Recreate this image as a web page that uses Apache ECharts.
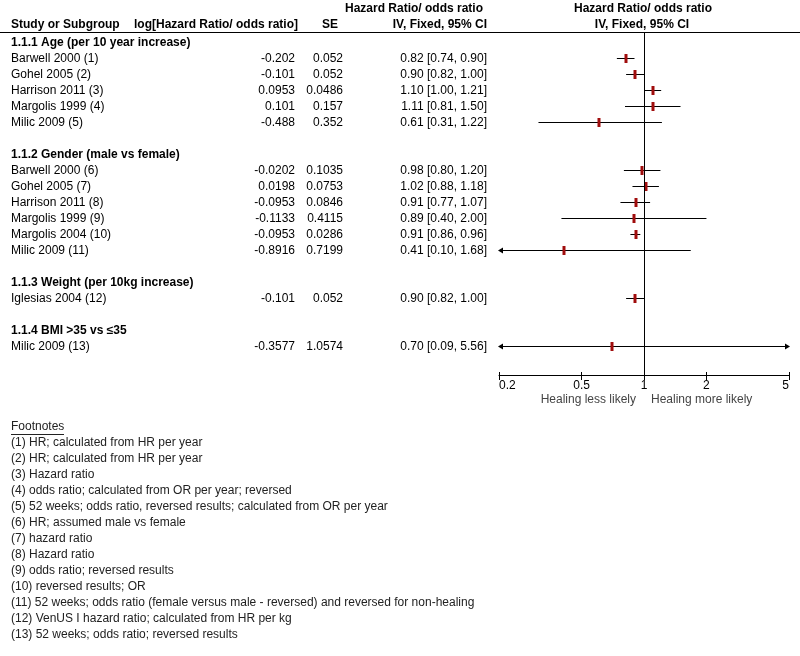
<!DOCTYPE html>
<html><head><meta charset="utf-8">
<script src="https://cdn.jsdelivr.net/npm/echarts@6/dist/echarts.min.js"></script>
<style>html,body{margin:0;padding:0;background:#fff}#c{width:800px;height:656px}</style>
</head><body><div id="c"></div>
<script>
// ---- data ----
const groupTitles = [
  '1.1.1 Age (per 10 year increase)',
  '1.1.2 Gender (male vs female)',
  '1.1.3 Weight (per 10kg increase)',
  '1.1.4 BMI >35 vs \u226435'
];
const studyGroup = [0,0,0,0,0, 1,1,1,1,1,1, 2, 3];
const studyNames = [
  'Barwell 2000 (1)','Gohel 2005 (2)','Harrison 2011 (3)','Margolis 1999 (4)','Milic 2009 (5)',
  'Barwell 2000 (6)','Gohel 2005 (7)','Harrison 2011 (8)','Margolis 1999 (9)','Margolis 2004 (10)','Milic 2009 (11)',
  'Iglesias 2004 (12)',
  'Milic 2009 (13)'
];
const logEffect = ['-0.202','-0.101','0.0953','0.101','-0.488',
  '-0.0202','0.0198','-0.0953','-0.1133','-0.0953','-0.8916',
  '-0.101','-0.3577'];
const seValues = ['0.052','0.052','0.0486','0.157','0.352',
  '0.1035','0.0753','0.0846','0.4115','0.0286','0.7199',
  '0.052','1.0574'];
const ratio = [0.82,0.90,1.10,1.11,0.61, 0.98,1.02,0.91,0.89,0.91,0.41, 0.90, 0.70];
const ciLower = [0.74,0.82,1.00,0.81,0.31, 0.80,0.88,0.77,0.40,0.86,0.10, 0.82, 0.09];
const ciUpper = [0.90,1.00,1.21,1.50,1.22, 1.20,1.18,1.07,2.00,0.96,1.68, 1.00, 5.56];
const tickLabels = [0.2, 0.5, 1, 2, 5];
const footnotes = [
  '(1) HR; calculated from HR per year',
  '(2) HR; calculated from HR per year',
  '(3) Hazard ratio',
  '(4) odds ratio; calculated from OR per year; reversed',
  '(5) 52 weeks; odds ratio, reversed results; calculated from OR per year',
  '(6) HR; assumed male vs female',
  '(7) hazard ratio',
  '(8) Hazard ratio',
  '(9) odds ratio; reversed results',
  '(10) reversed results; OR',
  '(11) 52 weeks; odds ratio (female versus male - reversed) and reversed for non-healing',
  '(12) VenUS I hazard ratio; calculated from HR per kg',
  '(13) 52 weeks; odds ratio; reversed results'
];

// ---- build rows ----
const headerRows = [];   // [row, groupIdx]
const studyRows = [];    // row for each study
let r = 0;
groupTitles.forEach((t, g) => {
  headerRows.push([r, g]); r++;
  studyGroup.forEach((sg, i) => { if (sg === g) { studyRows[i] = r; r++; } });
  r++;
});

const FONT = '"Liberation Sans", Arial, sans-serif';
const xMin = Math.log10(0.2), xMax = Math.log10(5);
const yMin = -0.625, yMax = 20.8125;
const logTicks = tickLabels.map(v => Math.log10(v));

const chart = echarts.init(document.getElementById('c'), null, {renderer: 'canvas'});

const tableData = [];
headerRows.forEach(h => tableData.push({value: [0, h[0]], kind: 'h', g: h[1]}));
studyNames.forEach((n, i) => tableData.push({value: [0, studyRows[i]], kind: 's', i: i}));

const plotData = ratio.map((v, i) => [Math.log10(v), Math.log10(ciLower[i]), Math.log10(ciUpper[i]), studyRows[i]]);

function txt(x, y, s, align, bold, color) {
  return {type: 'text', style: {x: x, y: y + 1, text: s, textAlign: align, textVerticalAlign: 'middle',
    font: (bold ? 'bold ' : '') + '12px ' + FONT, fill: color || '#000'}};
}

const option = {
  animation: false,
  backgroundColor: '#fff',
  grid: [
    {left: 0, right: 0, top: 32, bottom: 281},
    {left: 499, width: 290, top: 32, bottom: 281}
  ],
  xAxis: [
    {gridIndex: 0, type: 'value', min: 0, max: 800, position: 'top',
      axisLine: {show: true, onZero: false, lineStyle: {color: '#000', width: 1}},
      axisTick: {show: false}, axisLabel: {show: false}, splitLine: {show: false}},
    {gridIndex: 1, type: 'value', min: xMin, max: xMax, position: 'bottom',
      axisLine: {show: true, onZero: false, lineStyle: {color: '#000', width: 1}},
      axisTick: {show: true, length: 5, customValues: logTicks, lineStyle: {color: '#000'}},
      axisLabel: {show: true, customValues: logTicks, margin: 5, color: '#000', fontSize: 12, fontFamily: FONT,
        alignMinLabel: 'left', alignMaxLabel: 'right',
        formatter: v => String(Math.round(Math.pow(10, v) * 10) / 10)},
      splitLine: {show: false}},
    {gridIndex: 1, type: 'value', min: xMin, max: xMax, position: 'bottom', offset: 0,
      axisLine: {show: false, onZero: false},
      axisTick: {show: true, inside: true, length: 3, customValues: logTicks, lineStyle: {color: '#000'}},
      axisLabel: {show: false}, splitLine: {show: false}}
  ],
  yAxis: [
    {gridIndex: 0, type: 'value', inverse: true, min: yMin, max: yMax, show: false},
    {gridIndex: 1, type: 'value', inverse: true, min: yMin, max: yMax, show: false}
  ],
  series: [
    {
      type: 'custom', xAxisIndex: 0, yAxisIndex: 0, clip: false, silent: true,
      data: tableData,
      renderItem: function (params, api) {
        const d = tableData[params.dataIndex];
        const y = api.coord([0, api.value(1)])[1];
        if (d.kind === 'h') {
          return {type: 'group', children: [txt(api.coord([11, 0])[0], y, groupTitles[d.g], 'left', true)]};
        }
        const i = d.i;
        const ci = ratio[i].toFixed(2) + ' [' + ciLower[i].toFixed(2) + ', ' + ciUpper[i].toFixed(2) + ']';
        return {type: 'group', children: [
          txt(api.coord([11, 0])[0], y, studyNames[i], 'left', false),
          txt(api.coord([295, 0])[0], y, logEffect[i], 'right', false),
          txt(api.coord([343, 0])[0], y, seValues[i], 'right', false),
          txt(api.coord([487, 0])[0], y, ci, 'right', false)
        ]};
      }
    },
    {
      type: 'custom', xAxisIndex: 1, yAxisIndex: 1, clip: false, silent: true,
      data: plotData,
      encode: {x: [0, 1, 2], y: 3},
      renderItem: function (params, api) {
        const row = api.value(3);
        const lo = api.value(1), hi = api.value(2), m = api.value(0);
        const loC = Math.max(lo, xMin), hiC = Math.min(hi, xMax);
        const pL = api.coord([loC, row]);
        const pH = api.coord([hiC, row]);
        const pM = api.coord([m, row]);
        const y = Math.round(pM[1]) + 0.5;
        const children = [{
          type: 'line', shape: {x1: pL[0], y1: y, x2: pH[0], y2: y},
          style: {stroke: '#000', lineWidth: 1}
        }];
        if (lo < xMin) {
          children.push({type: 'polygon', shape: {points: [[pL[0] - 1, y], [pL[0] + 4, y - 3], [pL[0] + 4, y + 3]]},
            style: {fill: '#000'}});
        }
        if (hi > xMax) {
          children.push({type: 'polygon', shape: {points: [[pH[0] + 1, y], [pH[0] - 4, y - 3], [pH[0] - 4, y + 3]]},
            style: {fill: '#000'}});
        }
        children.push({type: 'rect', shape: {x: Math.round(pM[0]) - 1.5, y: y - 4.5, width: 3, height: 9},
          style: {fill: '#a00d0d'}});
        return {type: 'group', children: children};
      },
      markLine: {
        silent: true, symbol: 'none', animation: false,
        label: {show: false},
        lineStyle: {color: '#000', width: 1, type: 'solid'},
        data: [{xAxis: 0}]
      }
    }
  ],
  graphic: []
};

// headers
const g = [];
const hdr = (x, y, s, align) => ({type: 'text', style: {x: x, y: y, text: s, textAlign: align, textVerticalAlign: 'middle', font: 'bold 12px ' + FONT, fill: '#000'}});
g.push(hdr(11, 25, 'Study or Subgroup', 'left'));
g.push(hdr(298, 25, 'log[Hazard Ratio/ odds ratio]', 'right'));
g.push(hdr(338, 25, 'SE', 'right'));
g.push(hdr(483, 9, 'Hazard Ratio/ odds ratio', 'right'));
g.push(hdr(487, 25, 'IV, Fixed, 95% CI', 'right'));
g.push(hdr(643, 9, 'Hazard Ratio/ odds ratio', 'center'));
g.push(hdr(642, 25, 'IV, Fixed, 95% CI', 'center'));
// favours labels
g.push({type: 'text', style: {x: 636, y: 400, text: 'Healing less likely', textAlign: 'right', textVerticalAlign: 'middle', font: '12px ' + FONT, fill: '#444'}});
g.push({type: 'text', style: {x: 651, y: 400, text: 'Healing more likely', textAlign: 'left', textVerticalAlign: 'middle', font: '12px ' + FONT, fill: '#444'}});
// footnotes
g.push({type: 'text', style: {x: 11, y: 427, text: 'Footnotes', textAlign: 'left', textVerticalAlign: 'middle', font: '12px ' + FONT, fill: '#222'}});
g.push({type: 'line', shape: {x1: 11, y1: 434.5, x2: 64, y2: 434.5}, style: {stroke: '#222', lineWidth: 1}});
footnotes.forEach((f, i) => {
  g.push({type: 'text', style: {x: 11, y: 443 + 16 * i, text: f, textAlign: 'left', textVerticalAlign: 'middle', font: '12px ' + FONT, fill: '#222'}});
});
option.graphic = g;

chart.setOption(option);
</script>
</body></html>
